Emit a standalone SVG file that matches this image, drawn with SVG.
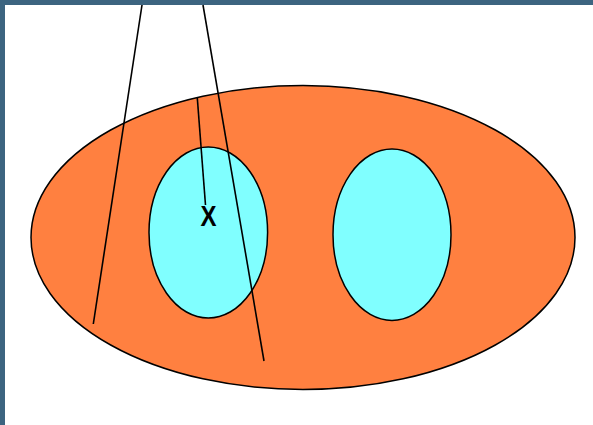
<svg xmlns="http://www.w3.org/2000/svg" width="593" height="425" viewBox="0 0 593 425">
<style>
.sh{stroke:#000;stroke-width:1.5}
.ln{stroke:#000;stroke-width:1.6;fill:none}
</style>
<rect x="0" y="0" width="593" height="425" fill="#3C6480"/>
<rect x="5" y="5" width="588" height="420" fill="#FFFFFF"/>
<g id="outer"><ellipse class="sh" cx="303" cy="237.5" rx="272" ry="152" fill="#FF8040"/></g>
<g id="left"><ellipse class="sh" cx="208.3" cy="232.5" rx="59.3" ry="85.5" fill="#80FFFF"/></g>
<g id="right"><ellipse class="sh" cx="392" cy="234.7" rx="59" ry="85.7" fill="#80FFFF"/></g>
<g id="connectors">
<line class="ln" x1="142" y1="5" x2="93.3" y2="324"/>
<line class="ln" x1="203" y1="5" x2="264" y2="361"/>
<line class="ln" x1="197.3" y1="98" x2="205.5" y2="205"/>
</g>
<g id="label"><text x="208.5" y="225.5" font-family="Liberation Sans, Arial, sans-serif" font-weight="bold" font-size="29" text-anchor="middle" textLength="16" lengthAdjust="spacingAndGlyphs">X</text></g>
</svg>
